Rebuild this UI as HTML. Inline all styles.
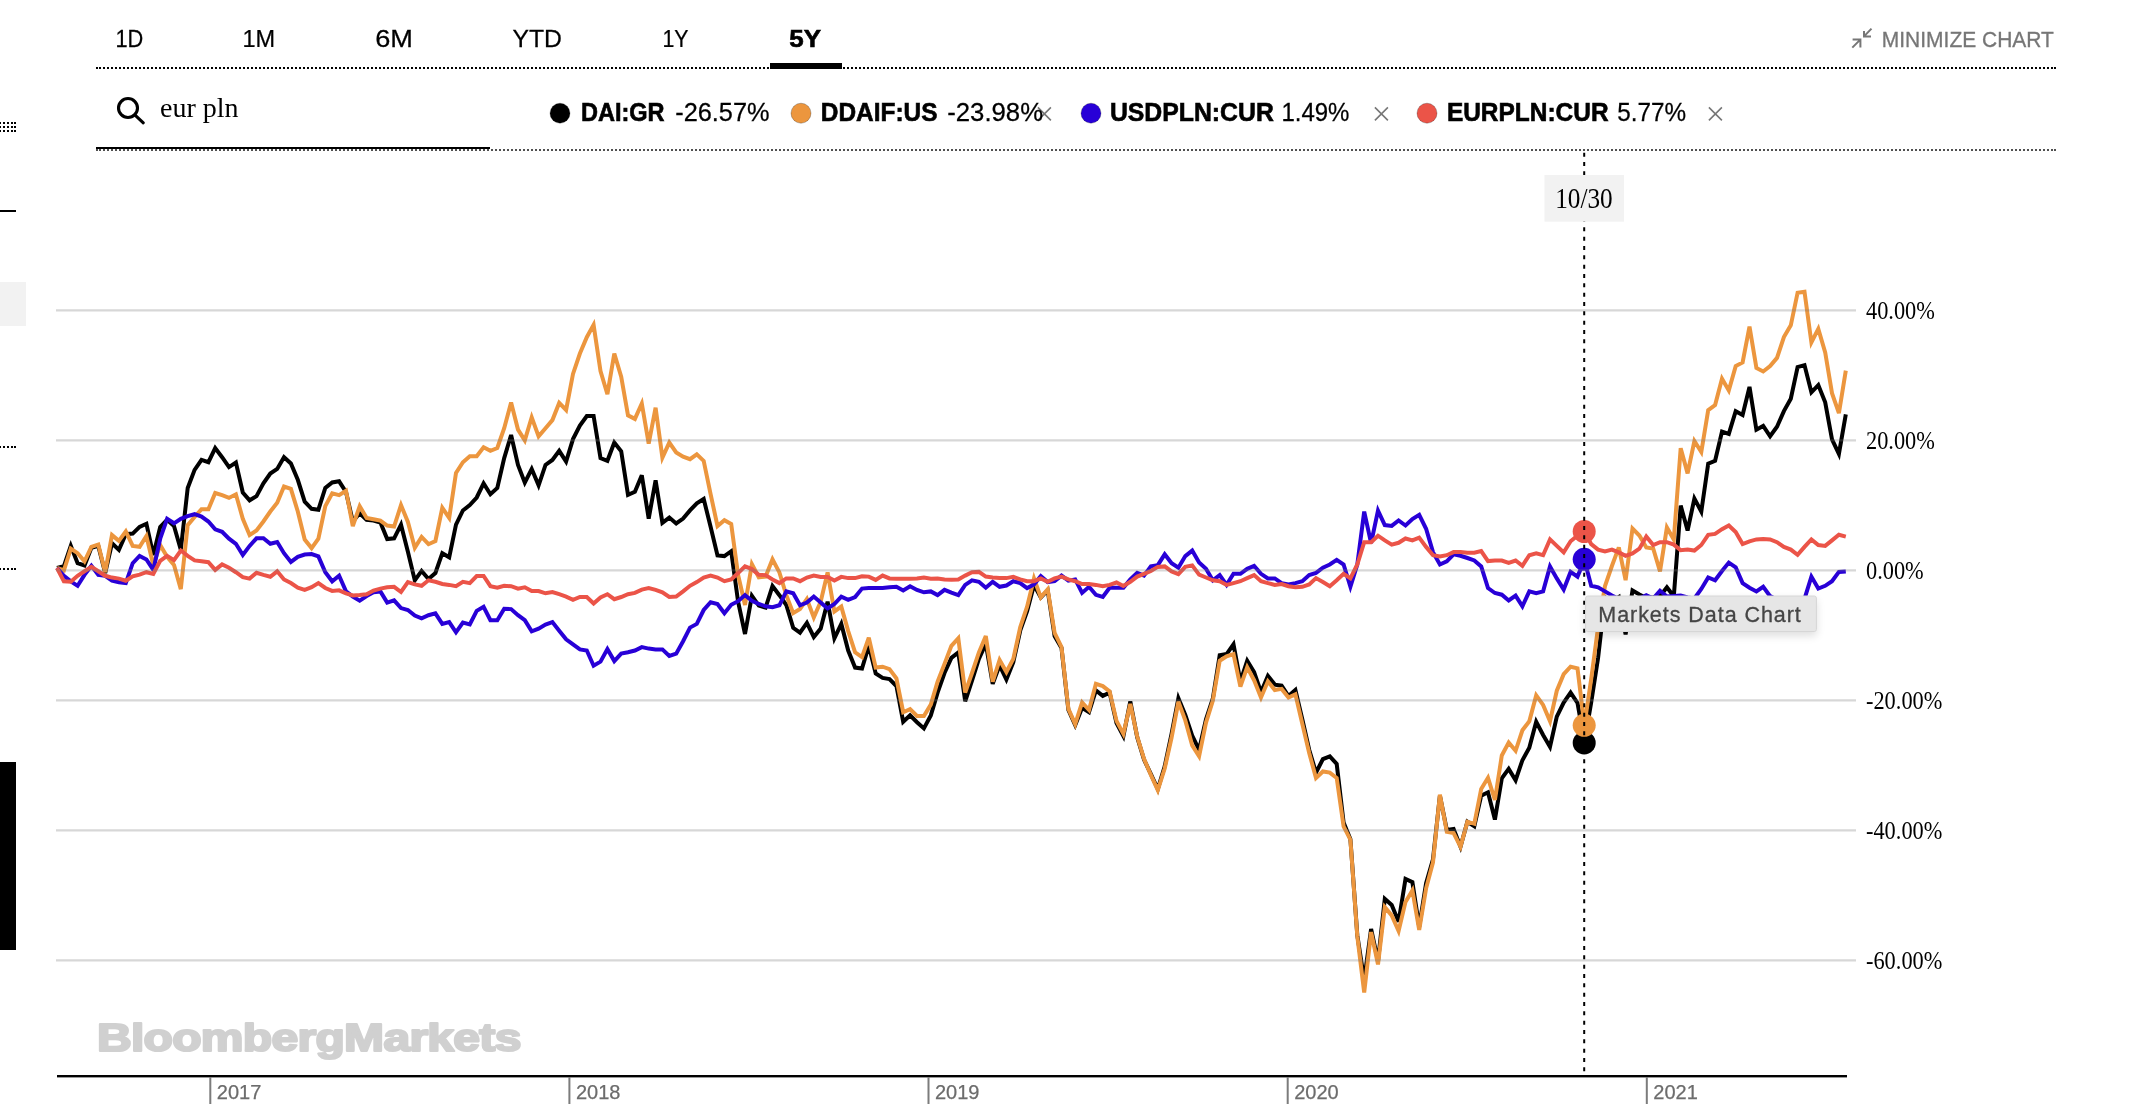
<!DOCTYPE html>
<html lang="en"><head><meta charset="utf-8"><title>Markets Data Chart</title>
<style>
html,body{margin:0;padding:0;background:#fff;}
body{width:2154px;height:1104px;overflow:hidden;position:relative;}
svg{display:block;position:absolute;left:0;top:0;will-change:transform;}
.sans{font-family:"Liberation Sans", Arial, Helvetica, sans-serif;}
.serif{font-family:"Liberation Serif", "Times New Roman", Times, serif;}
.tab{font-size:24px;fill:#000;stroke:#000;stroke-width:0.25px;}
.leg{font-size:25px;fill:#000;stroke:#000;stroke-width:0.25px;}
.hb{font-weight:700;stroke-width:0.6px;}
.b{font-weight:700;}
.ylab{font-size:26px;fill:#000;}
.year{font-size:20px;fill:#6c6c6c;stroke:#6c6c6c;stroke-width:0.25px;}
.ln{fill:none;stroke-width:4;stroke-linejoin:miter;stroke-miterlimit:3.6;stroke-linecap:butt;}
</style></head><body>
<svg width="2154" height="1104" viewBox="0 0 2154 1104">
<g id="edge">
<rect x="0" y="762" width="16" height="188" fill="#000"/>
<rect x="0" y="282" width="26" height="44" fill="#f2f2f2"/>
<rect x="0" y="210" width="16" height="2" fill="#000"/>
<path d="M-1 123H13M14 123h2" stroke="#000" stroke-width="2" stroke-dasharray="2 2" fill="none"/>
<path d="M-1 127H13M14 127h2" stroke="#000" stroke-width="2" stroke-dasharray="2 2" fill="none"/>
<path d="M-1 131H13M14 131h2" stroke="#000" stroke-width="2" stroke-dasharray="2 2" fill="none"/>
<path d="M-1 447H13M14 447h2" stroke="#000" stroke-width="2" stroke-dasharray="2 2" fill="none"/>
<path d="M-1 569H13M14 569h2" stroke="#000" stroke-width="2" stroke-dasharray="2 2" fill="none"/>
</g>
<g id="tabs" class="sans tab">
<text transform="translate(115.40 47) scale(0.9070 1)">1D</text>
<text transform="translate(242.40 47) scale(0.9800 1)">1M</text>
<text transform="translate(375.20 47) scale(1.1320 1)">6M</text>
<text transform="translate(512.40 47) scale(1.0300 1)">YTD</text>
<text transform="translate(662.50 47) scale(0.8890 1)">1Y</text>
<text transform="translate(789.20 47) scale(1.0830 1)" class="hb">5Y</text>
</g>
<path d="M99 68H2053M96 68h2M2054 68h2" stroke="#000" stroke-width="2" stroke-dasharray="2 2" fill="none"/>
<rect x="770" y="63" width="72" height="6" fill="#000"/>
<g id="minimize">
<path d="M1871.5 28.6 L1864 36.4 M1864 31 V36.5 H1871" fill="none" stroke="#767676" stroke-width="2"/>
<path d="M1852.3 47.6 L1860.3 39.6 M1852.6 39.6 H1860.4 V47.4" fill="none" stroke="#767676" stroke-width="2"/>
<text class="sans" transform="translate(1881.8 47) scale(0.972 1)" font-size="21.6" fill="#767676" stroke="#767676" stroke-width="0.3">MINIMIZE CHART</text>
</g>
<g id="search">
<circle cx="128" cy="108" r="9.5" fill="none" stroke="#000" stroke-width="3.1"/>
<line x1="134.8" y1="114.8" x2="143.3" y2="122.8" stroke="#000" stroke-width="3.1" stroke-linecap="round"/>
<text class="serif" x="160" y="117" font-size="28" fill="#000">eur pln</text>
<path d="M99 150H2053M96 150h2M2054 150h2" stroke="#505050" stroke-width="2" stroke-dasharray="2 2" fill="none"/>
<rect x="96" y="147" width="394" height="2" fill="#000"/>
</g>
<g id="legend" class="sans leg">
<circle cx="560" cy="113.2" r="10" fill="#000000"/>
<text transform="translate(580.90 121) scale(0.9420 1)" class="hb">DAI:GR</text>
<text transform="translate(675.20 121) scale(1.0140 1)">-26.57%</text>
<path d="M1037.9 107.4L1050.9 120.4M1050.9 107.4L1037.9 120.4" stroke="#777" stroke-width="1.6" fill="none"/>
<circle cx="801" cy="113.2" r="10" fill="#ec963e"/>
<text transform="translate(820.80 121) scale(0.9770 1)" class="hb">DDAIF:US</text>
<text transform="translate(947.20 121) scale(1.0300 1)">-23.98%</text>
<path d="M1374.9 107.4L1387.9 120.4M1387.9 107.4L1374.9 120.4" stroke="#777" stroke-width="1.6" fill="none"/>
<circle cx="1091" cy="113.2" r="10" fill="#2800d7"/>
<text transform="translate(1109.90 121) scale(0.9920 1)" class="hb">USDPLN:CUR</text>
<text transform="translate(1281.40 121) scale(0.9600 1)">1.49%</text>
<path d="M1708.9 107.4L1721.9 120.4M1721.9 107.4L1708.9 120.4" stroke="#777" stroke-width="1.6" fill="none"/>
<circle cx="1427" cy="113.2" r="10" fill="#eb5448"/>
<text transform="translate(1446.90 121) scale(0.9790 1)" class="hb">EURPLN:CUR</text>
<text transform="translate(1617.20 121) scale(0.9710 1)">5.77%</text>
</g>
<g id="chart">
<text class="sans b" transform="translate(97 1050.6) scale(1.217 1)" font-size="39.5" fill="#d0d0d0" stroke="#d0d0d0" stroke-width="2.2" stroke-linejoin="round" letter-spacing="-0.6">BloombergMarkets</text>
<path class="ln" stroke="#000000" d="M57.0 568.0 L63.9 566.2 L70.8 545.9 L77.6 563.2 L84.5 565.5 L91.4 547.8 L98.3 545.9 L105.2 573.1 L112.0 543.2 L118.9 549.9 L125.8 534.2 L132.7 533.6 L139.6 526.9 L146.4 523.8 L153.3 555.0 L160.2 526.9 L167.1 519.7 L174.0 526.0 L180.8 549.6 L187.7 488.0 L194.6 469.9 L201.5 459.9 L208.4 462.2 L215.2 448.1 L222.1 457.2 L229.0 467.1 L235.9 462.6 L242.8 492.5 L249.6 500.3 L256.5 496.1 L263.4 483.4 L270.3 473.5 L277.2 468.9 L284.0 457.2 L290.9 463.5 L297.8 479.8 L304.7 501.6 L311.6 508.8 L318.4 509.7 L325.3 488.0 L332.2 482.5 L339.1 481.3 L346.0 492.0 L352.8 521.4 L359.7 513.3 L366.6 519.8 L373.5 520.6 L380.4 522.5 L387.2 539.1 L394.1 538.3 L401.0 524.7 L407.9 551.8 L414.8 580.4 L421.6 570.9 L428.5 579.0 L435.4 573.0 L442.3 553.2 L449.2 557.3 L456.0 524.7 L462.9 510.5 L469.8 505.1 L476.7 497.5 L483.6 483.4 L490.4 494.2 L497.3 488.0 L504.2 458.1 L511.1 435.0 L518.0 464.9 L524.8 482.6 L531.7 469.0 L538.6 485.3 L545.5 464.9 L552.4 460.0 L559.2 450.8 L566.1 461.6 L573.0 439.1 L579.9 425.5 L586.8 416.0 L593.6 416.0 L600.5 458.1 L607.4 460.8 L614.3 442.6 L621.2 451.3 L628.0 494.8 L634.9 491.8 L641.8 475.2 L648.7 518.6 L655.6 480.4 L662.4 522.8 L669.3 517.6 L676.2 523.5 L683.1 518.6 L690.0 510.4 L696.8 503.3 L703.7 499.0 L710.6 526.7 L717.5 555.4 L724.4 556.1 L731.2 551.2 L738.1 601.7 L745.0 634.0 L751.9 595.9 L758.8 605.6 L765.6 607.6 L772.5 586.1 L779.4 595.2 L786.3 605.0 L793.2 627.8 L800.0 632.7 L806.9 622.9 L813.8 637.0 L820.7 628.5 L827.6 601.7 L834.4 638.3 L841.3 623.9 L848.2 650.6 L855.1 667.6 L862.0 668.6 L868.8 645.8 L875.7 673.5 L882.6 677.9 L889.5 679.0 L896.4 686.0 L903.2 721.8 L910.1 715.3 L917.0 722.2 L923.9 728.4 L930.8 715.4 L937.6 692.6 L944.5 673.0 L951.4 657.8 L958.3 652.4 L965.2 701.3 L972.0 680.7 L978.9 658.9 L985.8 643.7 L992.7 683.9 L999.6 665.4 L1006.4 679.6 L1013.3 662.2 L1020.2 630.7 L1027.1 611.1 L1034.0 585.0 L1040.8 597.4 L1047.7 590.4 L1054.6 636.1 L1061.5 648.0 L1068.4 710.0 L1075.2 725.2 L1082.1 707.8 L1089.0 712.2 L1095.9 690.4 L1102.8 695.9 L1109.6 692.6 L1116.5 723.0 L1123.4 736.1 L1130.3 701.3 L1137.2 737.2 L1144.0 759.6 L1150.9 774.2 L1157.8 789.1 L1164.7 766.3 L1171.6 733.7 L1178.4 698.2 L1185.3 715.0 L1192.2 735.7 L1199.1 749.8 L1206.0 719.3 L1212.8 698.7 L1219.7 655.2 L1226.6 654.1 L1233.5 644.3 L1240.4 681.3 L1247.2 660.7 L1254.1 672.2 L1261.0 692.2 L1267.9 675.9 L1274.8 684.6 L1281.6 685.7 L1288.5 696.1 L1295.4 690.0 L1302.3 719.3 L1309.2 749.8 L1316.0 772.6 L1322.9 759.1 L1329.8 756.3 L1336.7 763.9 L1343.6 822.6 L1350.4 839.1 L1357.3 935.2 L1364.2 980.0 L1371.1 929.0 L1378.0 961.2 L1384.8 898.8 L1391.7 905.0 L1398.6 921.7 L1405.5 879.0 L1412.4 882.1 L1419.2 926.9 L1426.1 883.1 L1433.0 859.2 L1439.9 795.6 L1446.8 830.0 L1453.6 829.0 L1460.5 846.7 L1467.4 821.7 L1474.3 826.2 L1481.2 795.6 L1488.0 792.3 L1494.9 819.6 L1501.8 778.3 L1508.7 768.9 L1515.6 780.2 L1522.4 760.2 L1529.3 747.7 L1536.2 721.8 L1543.1 735.0 L1550.0 746.8 L1556.8 716.6 L1563.7 702.5 L1570.6 692.6 L1577.5 703.0 L1584.4 742.1 L1591.2 702.5 L1598.1 657.8 L1605.0 597.3 L1611.9 601.3 L1618.8 597.0 L1625.6 634.5 L1632.5 590.5 L1639.4 594.5 L1646.3 598.0 L1653.2 597.3 L1660.0 596.3 L1666.9 587.3 L1673.8 596.3 L1680.7 505.6 L1687.6 530.5 L1694.4 498.6 L1701.3 511.6 L1708.2 463.6 L1715.1 460.8 L1722.0 431.6 L1728.8 433.9 L1735.7 411.2 L1742.6 415.0 L1749.5 386.9 L1756.4 429.7 L1763.2 425.9 L1770.1 436.3 L1777.0 426.8 L1783.9 411.1 L1790.8 398.7 L1797.6 367.0 L1804.5 365.1 L1811.4 392.3 L1818.3 385.1 L1825.2 402.3 L1832.0 439.4 L1838.9 453.9 L1845.8 414.4"/>
<path class="ln" stroke="#ec963e" d="M57.0 568.0 L63.9 570.4 L70.8 548.7 L77.6 553.2 L84.5 561.3 L91.4 546.8 L98.3 544.5 L105.2 572.2 L112.0 535.1 L118.9 540.9 L125.8 531.4 L132.7 545.9 L139.6 546.8 L146.4 536.0 L153.3 565.0 L160.2 545.0 L167.1 556.8 L174.0 565.0 L180.8 589.1 L187.7 525.1 L194.6 517.0 L201.5 509.2 L208.4 509.2 L215.2 493.0 L222.1 495.2 L229.0 497.9 L235.9 494.3 L242.8 518.8 L249.6 535.1 L256.5 530.5 L263.4 521.5 L270.3 511.5 L277.2 502.8 L284.0 486.5 L290.9 488.9 L297.8 511.5 L304.7 539.6 L311.6 548.1 L318.4 538.7 L325.3 506.1 L332.2 493.4 L339.1 495.2 L346.0 490.7 L352.8 526.0 L359.7 506.2 L366.6 517.9 L373.5 519.2 L380.4 520.6 L387.2 525.5 L394.1 526.6 L401.0 505.1 L407.9 522.0 L414.8 547.8 L421.6 536.9 L428.5 544.2 L435.4 541.0 L442.3 507.8 L449.2 517.9 L456.0 473.0 L462.9 462.2 L469.8 456.2 L476.7 456.2 L483.6 447.2 L490.4 450.8 L497.3 448.0 L504.2 428.2 L511.1 402.4 L518.0 429.6 L524.8 440.4 L531.7 417.3 L538.6 436.4 L545.5 428.2 L552.4 420.1 L559.2 402.9 L566.1 410.0 L573.0 373.9 L579.9 353.5 L586.8 337.2 L593.6 324.9 L600.5 371.1 L607.4 394.2 L614.3 353.5 L621.2 376.6 L628.0 415.4 L634.9 418.9 L641.8 403.5 L648.7 443.6 L655.6 407.7 L662.4 457.6 L669.3 442.6 L676.2 452.4 L683.1 456.6 L690.0 459.2 L696.8 454.3 L703.7 460.9 L710.6 494.1 L717.5 526.1 L724.4 520.2 L731.2 524.1 L738.1 575.0 L745.0 605.0 L751.9 564.2 L758.8 577.3 L765.6 576.6 L772.5 559.3 L779.4 572.4 L786.3 595.2 L793.2 613.1 L800.0 608.9 L806.9 599.1 L813.8 617.4 L820.7 601.7 L827.6 572.4 L834.4 611.5 L841.3 606.6 L848.2 631.1 L855.1 652.3 L862.0 657.2 L868.8 637.6 L875.7 667.6 L882.6 666.7 L889.5 669.1 L896.4 678.4 L903.2 712.2 L910.1 709.1 L917.0 716.0 L923.9 716.0 L930.8 704.6 L937.6 681.7 L944.5 663.9 L951.4 645.9 L958.3 638.3 L965.2 692.6 L972.0 673.0 L978.9 652.4 L985.8 636.1 L992.7 681.7 L999.6 660.0 L1006.4 672.0 L1013.3 658.9 L1020.2 627.4 L1027.1 606.7 L1034.0 578.5 L1040.8 597.4 L1047.7 589.3 L1054.6 632.8 L1061.5 647.0 L1068.4 708.9 L1075.2 724.1 L1082.1 702.4 L1089.0 710.0 L1095.9 683.9 L1102.8 686.1 L1109.6 691.5 L1116.5 720.9 L1123.4 733.9 L1130.3 703.9 L1137.2 736.5 L1144.0 758.9 L1150.9 775.0 L1157.8 790.2 L1164.7 768.5 L1171.6 737.5 L1178.4 701.6 L1185.3 720.4 L1192.2 745.4 L1199.1 756.3 L1206.0 722.6 L1212.8 700.9 L1219.7 660.7 L1226.6 656.3 L1233.5 654.1 L1240.4 686.7 L1247.2 667.2 L1254.1 680.2 L1261.0 697.6 L1267.9 681.3 L1274.8 690.0 L1281.6 688.9 L1288.5 697.6 L1295.4 694.3 L1302.3 723.7 L1309.2 753.0 L1316.0 778.0 L1322.9 771.5 L1329.8 772.6 L1336.7 778.0 L1343.6 826.4 L1350.4 839.7 L1357.3 936.2 L1364.2 992.5 L1371.1 932.1 L1378.0 964.4 L1384.8 907.1 L1391.7 915.4 L1398.6 931.0 L1405.5 901.9 L1412.4 890.4 L1419.2 930.0 L1426.1 888.3 L1433.0 862.3 L1439.9 794.6 L1446.8 831.7 L1453.6 833.1 L1460.5 846.7 L1467.4 821.7 L1474.3 823.8 L1481.2 789.0 L1488.0 777.8 L1494.9 800.0 L1501.8 755.5 L1508.7 742.5 L1515.6 750.8 L1522.4 730.3 L1529.3 721.3 L1536.2 695.4 L1543.1 704.9 L1550.0 721.3 L1556.8 690.7 L1563.7 674.2 L1570.6 666.7 L1577.5 668.4 L1584.4 724.9 L1591.2 679.0 L1598.1 627.1 L1605.0 586.0 L1611.9 566.0 L1618.8 547.4 L1625.6 580.2 L1632.5 528.5 L1639.4 535.5 L1646.3 547.5 L1653.2 548.5 L1660.0 571.4 L1666.9 527.5 L1673.8 539.5 L1680.7 448.2 L1687.6 473.4 L1694.4 441.0 L1701.3 452.0 L1708.2 410.2 L1715.1 405.0 L1722.0 378.7 L1728.8 390.5 L1735.7 366.1 L1742.6 362.4 L1749.5 326.7 L1756.4 367.9 L1763.2 371.5 L1770.1 366.1 L1777.0 357.9 L1783.9 337.1 L1790.8 325.3 L1797.6 292.7 L1804.5 291.8 L1811.4 342.5 L1818.3 328.9 L1825.2 352.5 L1832.0 393.2 L1838.9 413.2 L1845.8 370.6"/>
<path class="ln" stroke="#2800d7" d="M57.0 568.0 L63.9 575.8 L70.8 581.3 L77.6 585.8 L84.5 574.9 L91.4 565.9 L98.3 574.9 L105.2 575.8 L112.0 580.7 L118.9 582.2 L125.8 583.1 L132.7 563.2 L139.6 555.9 L146.4 559.5 L153.3 569.9 L160.2 538.7 L167.1 518.8 L174.0 523.3 L180.8 518.8 L187.7 516.1 L194.6 514.2 L201.5 516.6 L208.4 521.5 L215.2 529.3 L222.1 531.8 L229.0 538.7 L235.9 543.8 L242.8 555.0 L249.6 545.9 L256.5 538.3 L263.4 538.3 L270.3 543.8 L277.2 542.0 L284.0 553.2 L290.9 561.9 L297.8 556.8 L304.7 554.6 L311.6 554.1 L318.4 556.4 L325.3 572.2 L332.2 581.3 L339.1 575.8 L346.0 591.3 L352.8 596.6 L359.7 600.7 L366.6 596.1 L373.5 592.3 L380.4 591.4 L387.2 602.6 L394.1 600.3 L401.0 608.1 L407.9 610.0 L414.8 615.6 L421.6 618.3 L428.5 615.2 L435.4 613.3 L442.3 623.9 L449.2 622.1 L456.0 632.3 L462.9 622.6 L469.8 624.5 L476.7 610.9 L483.6 606.8 L490.4 620.2 L497.3 620.2 L504.2 608.7 L511.1 609.1 L518.0 615.2 L524.8 620.2 L531.7 631.3 L538.6 628.6 L545.5 624.5 L552.4 622.1 L559.2 630.8 L566.1 639.3 L573.0 644.3 L579.9 649.4 L586.8 650.5 L593.6 665.7 L600.5 661.6 L607.4 649.0 L614.3 661.1 L621.2 653.6 L628.0 652.3 L634.9 650.5 L641.8 647.1 L648.7 648.6 L655.6 649.4 L662.4 649.4 L669.3 656.0 L676.2 653.6 L683.1 641.2 L690.0 627.6 L696.8 623.9 L703.7 610.0 L710.6 602.2 L717.5 604.0 L724.4 613.3 L731.2 604.8 L738.1 601.2 L745.0 595.1 L751.9 600.7 L758.8 604.0 L765.6 606.3 L772.5 607.2 L779.4 605.3 L786.3 591.4 L793.2 593.3 L800.0 605.3 L806.9 602.6 L813.8 596.6 L820.7 602.6 L827.6 608.5 L834.4 604.0 L841.3 596.6 L848.2 599.8 L855.1 597.0 L862.0 588.6 L868.8 588.1 L875.7 588.1 L882.6 588.1 L889.5 587.3 L896.4 586.8 L903.2 590.5 L910.1 586.2 L917.0 589.9 L923.9 592.3 L930.8 591.4 L937.6 595.1 L944.5 589.9 L951.4 592.7 L958.3 595.1 L965.2 584.9 L972.0 580.3 L978.9 581.8 L985.8 587.7 L992.7 581.8 L999.6 586.8 L1006.4 585.5 L1013.3 581.2 L1020.2 583.1 L1027.1 588.1 L1034.0 584.4 L1040.8 576.2 L1047.7 582.1 L1054.6 581.2 L1061.5 575.6 L1068.4 580.6 L1075.2 579.4 L1082.1 592.9 L1089.0 586.8 L1095.9 594.8 L1102.8 597.0 L1109.6 587.7 L1116.5 587.7 L1123.4 587.7 L1130.3 579.4 L1137.2 572.9 L1144.0 575.6 L1150.9 566.4 L1157.8 565.1 L1164.7 554.3 L1171.6 563.2 L1178.4 567.7 L1185.3 556.1 L1192.2 550.6 L1199.1 562.6 L1206.0 568.8 L1212.8 580.3 L1219.7 575.1 L1226.6 584.9 L1233.5 573.8 L1240.4 573.8 L1247.2 568.8 L1254.1 565.8 L1261.0 573.8 L1267.9 578.4 L1274.8 578.4 L1281.6 583.1 L1288.5 584.4 L1295.4 583.1 L1302.3 581.2 L1309.2 575.1 L1316.0 572.9 L1322.9 567.7 L1329.8 564.5 L1336.7 559.9 L1343.6 564.5 L1350.4 586.8 L1357.3 564.5 L1364.2 511.6 L1371.1 543.1 L1378.0 510.6 L1384.8 525.1 L1391.7 525.9 L1398.6 520.5 L1405.5 525.5 L1412.4 519.0 L1419.2 514.9 L1426.1 528.8 L1433.0 552.1 L1439.9 564.5 L1446.8 561.3 L1453.6 554.3 L1460.5 555.8 L1467.4 558.0 L1474.3 560.4 L1481.2 566.4 L1488.0 588.0 L1494.9 593.0 L1501.8 594.7 L1508.7 600.5 L1515.6 595.6 L1522.4 606.3 L1529.3 591.4 L1536.2 593.3 L1543.1 591.4 L1550.0 566.4 L1556.8 578.4 L1563.7 589.6 L1570.6 571.9 L1577.5 576.6 L1584.4 559.9 L1591.2 585.8 L1598.1 587.3 L1605.0 591.4 L1611.9 595.5 L1618.8 598.8 L1625.6 600.0 L1632.5 600.0 L1639.4 598.5 L1646.3 595.2 L1653.2 598.5 L1660.0 590.7 L1666.9 596.5 L1673.8 596.0 L1680.7 595.5 L1687.6 597.5 L1694.4 598.5 L1701.3 589.0 L1708.2 577.5 L1715.1 580.3 L1722.0 571.0 L1728.8 562.6 L1735.7 567.3 L1742.6 583.1 L1749.5 587.7 L1756.4 591.4 L1763.2 586.8 L1770.1 596.1 L1777.0 599.8 L1783.9 600.7 L1790.8 600.7 L1797.6 600.7 L1804.5 598.8 L1811.4 576.6 L1818.3 588.6 L1825.2 585.8 L1832.0 581.2 L1838.9 571.9 L1845.8 571.4"/>
<path class="ln" stroke="#eb5448" d="M57.0 568.0 L63.9 581.3 L70.8 581.8 L77.6 575.8 L84.5 571.3 L91.4 566.8 L98.3 571.3 L105.2 575.8 L112.0 577.6 L118.9 578.6 L125.8 580.7 L132.7 576.4 L139.6 574.6 L146.4 572.2 L153.3 574.0 L160.2 560.8 L167.1 555.9 L174.0 560.1 L180.8 550.5 L187.7 555.9 L194.6 560.4 L201.5 561.3 L208.4 562.2 L215.2 569.9 L222.1 564.4 L229.0 567.7 L235.9 572.2 L242.8 577.1 L249.6 578.6 L256.5 572.8 L263.4 574.9 L270.3 576.7 L277.2 571.3 L284.0 579.5 L290.9 583.1 L297.8 587.6 L304.7 589.8 L311.6 587.2 L318.4 583.1 L325.3 588.0 L332.2 590.9 L339.1 590.3 L346.0 593.3 L352.8 595.5 L359.7 595.1 L366.6 594.2 L373.5 590.5 L380.4 588.6 L387.2 587.3 L394.1 586.8 L401.0 592.0 L407.9 582.1 L414.8 584.4 L421.6 585.8 L428.5 580.3 L435.4 581.8 L442.3 584.0 L449.2 584.9 L456.0 586.2 L462.9 581.8 L469.8 583.1 L476.7 576.0 L483.6 576.0 L490.4 586.2 L497.3 587.7 L504.2 585.8 L511.1 586.2 L518.0 588.6 L524.8 587.3 L531.7 591.0 L538.6 591.0 L545.5 593.3 L552.4 592.0 L559.2 594.2 L566.1 596.6 L573.0 599.8 L579.9 597.0 L586.8 597.0 L593.6 603.5 L600.5 597.4 L607.4 594.2 L614.3 599.2 L621.2 597.0 L628.0 594.2 L634.9 592.9 L641.8 589.6 L648.7 588.1 L655.6 589.9 L662.4 592.3 L669.3 597.0 L676.2 596.6 L683.1 591.4 L690.0 585.8 L696.8 582.1 L703.7 577.5 L710.6 575.6 L717.5 577.5 L724.4 581.2 L731.2 579.4 L738.1 573.1 L745.0 566.4 L751.9 569.1 L758.8 574.7 L765.6 575.1 L772.5 579.4 L779.4 583.1 L786.3 578.4 L793.2 578.4 L800.0 581.2 L806.9 577.5 L813.8 575.6 L820.7 576.9 L827.6 576.9 L834.4 580.6 L841.3 576.9 L848.2 578.1 L855.1 578.1 L862.0 576.2 L868.8 576.6 L875.7 579.9 L882.6 575.6 L889.5 578.4 L896.4 578.8 L903.2 578.8 L910.1 578.8 L917.0 578.4 L923.9 577.5 L930.8 578.8 L937.6 578.4 L944.5 579.4 L951.4 579.7 L958.3 579.4 L965.2 575.6 L972.0 572.3 L978.9 571.9 L985.8 576.6 L992.7 577.5 L999.6 577.9 L1006.4 578.1 L1013.3 576.9 L1020.2 579.4 L1027.1 581.2 L1034.0 581.2 L1040.8 578.4 L1047.7 581.8 L1054.6 578.4 L1061.5 576.6 L1068.4 579.4 L1075.2 581.2 L1082.1 584.0 L1089.0 584.0 L1095.9 584.9 L1102.8 586.2 L1109.6 584.9 L1116.5 582.5 L1123.4 586.0 L1130.3 581.8 L1137.2 576.6 L1144.0 573.8 L1150.9 571.0 L1157.8 566.9 L1164.7 566.4 L1171.6 571.4 L1178.4 574.2 L1185.3 566.9 L1192.2 565.4 L1199.1 574.7 L1206.0 577.5 L1212.8 580.3 L1219.7 581.2 L1226.6 584.9 L1233.5 583.1 L1240.4 581.2 L1247.2 578.1 L1254.1 575.1 L1261.0 581.2 L1267.9 583.1 L1274.8 584.9 L1281.6 584.0 L1288.5 586.2 L1295.4 587.3 L1302.3 586.8 L1309.2 584.4 L1316.0 578.1 L1322.9 582.1 L1329.8 586.2 L1336.7 580.3 L1343.6 573.8 L1350.4 578.4 L1357.3 564.5 L1364.2 542.2 L1371.1 542.2 L1378.0 535.7 L1384.8 540.4 L1391.7 544.6 L1398.6 542.8 L1405.5 538.5 L1412.4 540.4 L1419.2 537.6 L1426.1 546.9 L1433.0 555.2 L1439.9 556.5 L1446.8 555.2 L1453.6 552.1 L1460.5 552.1 L1467.4 552.8 L1474.3 552.8 L1481.2 551.1 L1488.0 561.1 L1494.9 560.6 L1501.8 560.5 L1508.7 562.9 L1515.6 560.5 L1522.4 565.8 L1529.3 555.2 L1536.2 553.4 L1543.1 555.2 L1550.0 539.4 L1556.8 545.9 L1563.7 552.4 L1570.6 541.3 L1577.5 535.7 L1584.4 531.1 L1591.2 544.1 L1598.1 549.6 L1605.0 551.5 L1611.9 549.6 L1618.8 552.4 L1625.6 555.8 L1632.5 553.4 L1639.4 548.7 L1646.3 536.6 L1653.2 545.0 L1660.0 542.2 L1666.9 542.2 L1673.8 544.6 L1680.7 550.2 L1687.6 549.6 L1694.4 550.6 L1701.3 545.0 L1708.2 534.8 L1715.1 533.9 L1722.0 529.2 L1728.8 525.5 L1735.7 532.0 L1742.6 544.1 L1749.5 541.3 L1756.4 539.4 L1763.2 539.1 L1770.1 539.4 L1777.0 542.2 L1783.9 546.9 L1790.8 549.6 L1797.6 554.8 L1804.5 546.9 L1811.4 539.4 L1818.3 545.0 L1825.2 545.9 L1832.0 540.4 L1838.9 534.8 L1845.8 536.6"/>
<rect x="1544.5" y="175" width="79.5" height="46.7" fill="#f2f2f2"/>
<text class="serif" transform="translate(1583.9 208) scale(0.885 1)" font-size="28.5" fill="#000" text-anchor="middle">10/30</text>
<circle cx="1584.2" cy="742.9" r="11.5" fill="#000000"/>
<circle cx="1584.2" cy="725.3" r="11.5" fill="#ec963e"/>
<circle cx="1584.2" cy="559.3" r="11.5" fill="#2800d7"/>
<circle cx="1584.2" cy="531.5" r="11.5" fill="#eb5448"/>
<line x1="56" y1="310.3" x2="1856" y2="310.3" stroke="#7a7a7a" stroke-opacity="0.3" stroke-width="2.2"/>
<line x1="56" y1="440.3" x2="1856" y2="440.3" stroke="#7a7a7a" stroke-opacity="0.3" stroke-width="2.2"/>
<line x1="56" y1="570.3" x2="1856" y2="570.3" stroke="#7a7a7a" stroke-opacity="0.3" stroke-width="2.2"/>
<line x1="56" y1="700.3" x2="1856" y2="700.3" stroke="#7a7a7a" stroke-opacity="0.3" stroke-width="2.2"/>
<line x1="56" y1="830.3" x2="1856" y2="830.3" stroke="#7a7a7a" stroke-opacity="0.3" stroke-width="2.2"/>
<line x1="56" y1="960.3" x2="1856" y2="960.3" stroke="#7a7a7a" stroke-opacity="0.3" stroke-width="2.2"/>
<line x1="1584.2" y1="151" x2="1584.2" y2="175" stroke="#000" stroke-width="2" stroke-dasharray="4 5.333" stroke-dashoffset="7.63"/>
<line x1="1584.2" y1="221.7" x2="1584.2" y2="1075" stroke="#000" stroke-width="2" stroke-dasharray="4 5.333" stroke-dashoffset="3.67"/>
<rect x="57" y="1075" width="1790" height="2.4" fill="#000"/>
<rect x="209.3" y="1077" width="2" height="27" fill="#7c7c7c"/>
<text class="sans year" x="216.8" y="1098.7">2017</text>
<rect x="568.4" y="1077" width="2" height="27" fill="#7c7c7c"/>
<text class="sans year" x="575.9" y="1098.7">2018</text>
<rect x="927.5" y="1077" width="2" height="27" fill="#7c7c7c"/>
<text class="sans year" x="935.0" y="1098.7">2019</text>
<rect x="1286.7" y="1077" width="2" height="27" fill="#7c7c7c"/>
<text class="sans year" x="1294.2" y="1098.7">2020</text>
<rect x="1645.8" y="1077" width="2" height="27" fill="#7c7c7c"/>
<text class="sans year" x="1653.3" y="1098.7">2021</text>
<g class="serif ylab">
<text transform="translate(1866.00 319) scale(0.8600 1)">40.00%</text>
<text transform="translate(1866.00 449) scale(0.8600 1)">20.00%</text>
<text transform="translate(1866.00 579) scale(0.8600 1)">0.00%</text>
<text transform="translate(1866.00 709) scale(0.8600 1)">-20.00%</text>
<text transform="translate(1866.00 839) scale(0.8600 1)">-40.00%</text>
<text transform="translate(1866.00 969) scale(0.8600 1)">-60.00%</text>
</g>
<defs><filter id="sh" x="-10%" y="-30%" width="120%" height="200%"><feGaussianBlur in="SourceAlpha" stdDeviation="4"/><feOffset dy="4" result="o"/><feComponentTransfer><feFuncA type="linear" slope="0.13"/></feComponentTransfer><feMerge><feMergeNode/><feMergeNode in="SourceGraphic"/></feMerge></filter></defs>
<rect x="1585.6" y="596" width="230.8" height="35.5" rx="2" fill="#e6e6e6" stroke="#d6d6d6" stroke-width="1" filter="url(#sh)"/>
<text class="sans" x="1598.3" y="621.7" font-size="21.5" fill="#454545" stroke="#454545" stroke-width="0.3" letter-spacing="0.95">Markets Data Chart</text>
</g>
</svg>
</body></html>
